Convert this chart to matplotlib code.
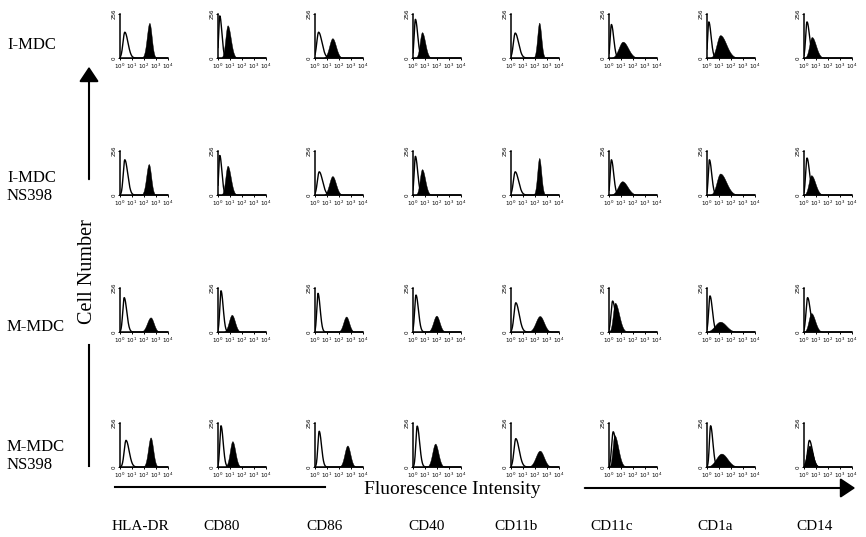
import numpy as np
import matplotlib
matplotlib.use("Agg")
import matplotlib.pyplot as plt
from matplotlib.patches import FancyArrowPatch
from matplotlib.lines import Line2D

# ---------------- data ----------------
rows = ["I-MDC", "I-MDC\nNS398", "M-MDC", "M-MDC\nNS398"]
markers = ["HLA-DR", "CD80", "CD86", "CD40", "CD11b", "CD11c", "CD1a", "CD14"]
x_ticklabels = ["$10^0$", "$10^1$", "$10^2$", "$10^3$", "$10^4$"]
y_ticklabels = ["0", "256"]

# isotype (open) histogram: peak position (log10 units), peak count, left / right spread (log10 units)
iso_peak = [
    [0.40, 0.15, 0.30, 0.20, 0.35, 0.20, 0.15, 0.25],
    [0.40, 0.15, 0.35, 0.20, 0.35, 0.20, 0.20, 0.25],
    [0.35, 0.25, 0.25, 0.25, 0.40, 0.30, 0.25, 0.30],
    [0.50, 0.25, 0.35, 0.35, 0.40, 0.35, 0.30, 0.45],
]
iso_height = [
    [150, 245, 150, 225, 145, 195, 210, 210],
    [205, 230, 135, 225, 135, 205, 205, 215],
    [200, 240, 225, 215, 170, 180, 210, 200],
    [155, 240, 208, 238, 165, 205, 240, 155],
]
iso_left = [
    [0.15, 0.09, 0.15, 0.10, 0.15, 0.10, 0.09, 0.11],
    [0.13, 0.09, 0.15, 0.10, 0.15, 0.10, 0.09, 0.11],
    [0.12, 0.10, 0.10, 0.11, 0.15, 0.13, 0.11, 0.13],
    [0.15, 0.10, 0.11, 0.11, 0.15, 0.13, 0.10, 0.15],
]
iso_right = [
    [0.26, 0.17, 0.28, 0.19, 0.28, 0.19, 0.19, 0.21],
    [0.24, 0.17, 0.28, 0.19, 0.28, 0.19, 0.19, 0.21],
    [0.21, 0.18, 0.18, 0.20, 0.28, 0.23, 0.20, 0.23],
    [0.26, 0.18, 0.19, 0.20, 0.28, 0.23, 0.19, 0.25],
]
# stained (filled) histogram
pos_peak = [
    [2.45, 0.80, 1.45, 0.75, 2.35, 1.15, 1.10, 0.65],
    [2.40, 0.80, 1.45, 0.75, 2.35, 1.10, 1.10, 0.60],
    [2.55, 1.15, 2.60, 1.95, 2.40, 0.50, 1.10, 0.60],
    [2.55, 1.20, 2.70, 1.85, 2.40, 0.45, 1.20, 0.45],
]
pos_height = [
    [204, 190, 115, 150, 205, 95, 133, 122],
    [180, 170, 110, 150, 215, 80, 125, 115],
    [85, 100, 90, 95, 93, 170, 60, 110],
    [172, 150, 125, 136, 95, 185, 78, 125],
]
pos_left = [
    [0.21, 0.18, 0.26, 0.18, 0.16, 0.34, 0.29, 0.21],
    [0.21, 0.18, 0.26, 0.18, 0.16, 0.34, 0.29, 0.21],
    [0.29, 0.24, 0.24, 0.26, 0.34, 0.17, 0.44, 0.21],
    [0.21, 0.21, 0.24, 0.24, 0.34, 0.15, 0.44, 0.23],
]
pos_right = [
    [0.19, 0.26, 0.29, 0.26, 0.17, 0.44, 0.50, 0.34],
    [0.19, 0.26, 0.29, 0.26, 0.17, 0.44, 0.50, 0.34],
    [0.26, 0.26, 0.24, 0.26, 0.34, 0.34, 0.50, 0.32],
    [0.21, 0.24, 0.24, 0.26, 0.34, 0.32, 0.50, 0.29],
]

# ---------------- layout ----------------
W, H = 866, 537
fig = plt.figure(figsize=(W / 100, H / 100), dpi=100)
fig.patch.set_facecolor("white")

col_left = [120, 218, 315, 413, 511, 609, 707, 804]
row_top = [14, 151, 288, 423]
pw, ph = 48, 44
serif = ["Liberation Serif", "DejaVu Serif"]

xs = np.logspace(0, 4, 500)
lx = np.log10(xs)


def curve(peak, height, left, right):
    s = np.where(lx < peak, left, right)
    return height * np.exp(-0.5 * ((lx - peak) / s) ** 2)


for r in range(4):
    for c in range(8):
        ax = fig.add_axes([col_left[c] / W, 1 - (row_top[r] + ph) / H, pw / W, ph / H])
        iso = curve(iso_peak[r][c], iso_height[r][c], iso_left[r][c], iso_right[r][c])
        pos = curve(pos_peak[r][c], pos_height[r][c], pos_left[r][c], pos_right[r][c])
        ax.fill_between(xs, 0, pos, color="black", lw=0.3)
        ax.plot(xs, iso, color="black", lw=1.0)
        ax.set_xscale("log")
        ax.set_xlim(1, 1e4)
        ax.set_ylim(0, 256)
        ax.set_xticks([1, 10, 100, 1000, 10000])
        ax.set_xticklabels(x_ticklabels)
        ax.minorticks_off()
        ax.set_yticks([0, 256])
        ax.set_yticklabels(y_ticklabels, rotation=90, va="center")
        ax.tick_params(axis="both", labelsize=4, length=1.5, width=0.7, pad=1)
        for s in ["top", "right"]:
            ax.spines[s].set_visible(False)
        for s in ["left", "bottom"]:
            ax.spines[s].set_linewidth(1.1)
        ax.patch.set_alpha(0)

# row labels
row_y = [45, 187, 327, 456]
for lab, y in zip(rows, row_y):
    fig.text(7 / W, 1 - y / H, lab, family=serif, fontsize=12, ha="left", va="center",
             linespacing=1.1)

# column labels
col_cx = [140, 222, 325, 427, 516, 612, 715, 815]
for lab, x in zip(markers, col_cx):
    fig.text(x / W, 1 - 526 / H, lab, family=serif, fontsize=11, ha="center", va="center")

# vertical axis annotation
fig.add_artist(FancyArrowPatch(
    (89 / W, 1 - 182 / H), (89 / W, 1 - 64 / H), transform=fig.transFigure,
    arrowstyle="-|>,head_length=6,head_width=4", color="black", lw=1.5, mutation_scale=1.5))
fig.add_artist(Line2D([89 / W, 89 / W], [1 - 345 / H, 1 - 466 / H],
                      transform=fig.transFigure, color="black", lw=1.5))
fig.text(88 / W, 1 - 272 / H, "Cell Number", family=serif, fontsize=14.5, rotation=90,
         ha="center", va="center")

# horizontal axis annotation
fig.add_artist(Line2D([115 / W, 325 / W], [1 - 487 / H, 1 - 487 / H],
                      transform=fig.transFigure, color="black", lw=1.5))
fig.add_artist(FancyArrowPatch(
    (582 / W, 1 - 488 / H), (858 / W, 1 - 488 / H), transform=fig.transFigure,
    arrowstyle="-|>,head_length=6,head_width=4", color="black", lw=1.5, mutation_scale=1.5))
fig.text(452 / W, 1 - 490 / H, "Fluorescence Intensity", family=serif, fontsize=14,
         ha="center", va="center")

fig.savefig("out.png", dpi=100, facecolor="white")
